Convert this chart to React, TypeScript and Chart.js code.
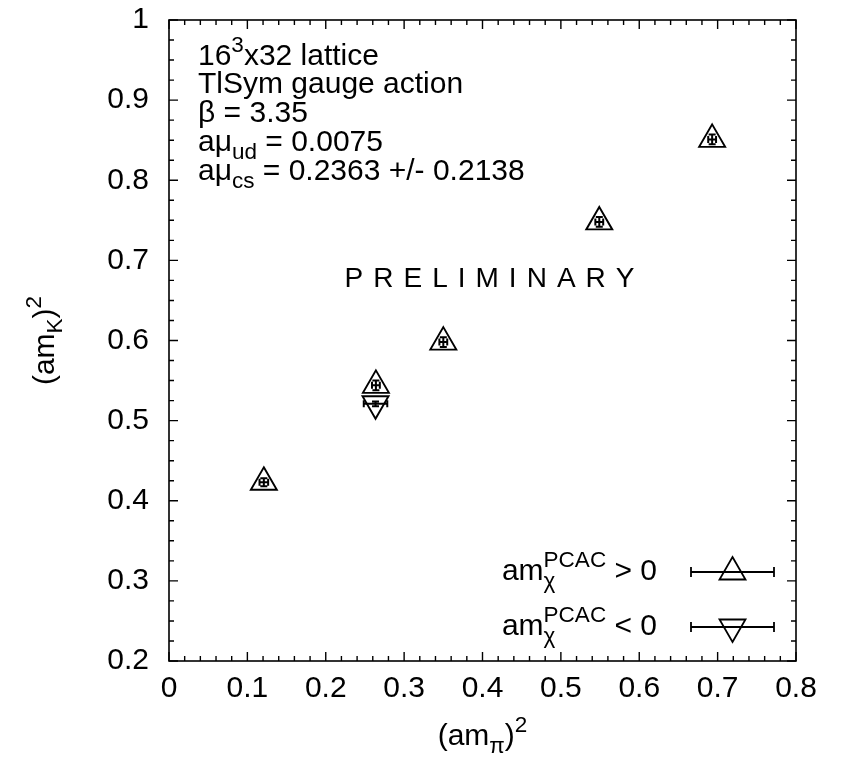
import React, { useEffect, useRef } from "react";
import { Chart, registerables } from "chart.js";

Chart.register(...registerables);

// ---- data ----
const xMin = 0;
const xMax = 0.8;
const yMin = 0.2;
const yMax = 1;
const tickStep = 0.1;
const xMinorPerMajor = 5;
const yMinorPerMajor = 4;

// am_chi^PCAC > 0
const posPionSq = [0.121, 0.264, 0.35, 0.549, 0.693];
const posKaonSq = [0.423, 0.544, 0.598, 0.748, 0.851];
const posPionErr = [0.0055, 0.005, 0.005, 0.005, 0.005];
const posKaonErr = [0.005, 0.006, 0.006, 0.006, 0.006];

// am_chi^PCAC < 0
const negPionSq = [0.2635];
const negKaonSq = [0.521];
const negPionErr = [0.015];
const negKaonErr = [0.003];

type Seg = string | { sub?: string; sup?: string };

const infoLines: Seg[][] = [
  ["16", { sup: "3" }, "x32 lattice"],
  ["TlSym gauge action"],
  ["β = 3.35"],
  ["aμ", { sub: "ud" }, " = 0.0075"],
  ["aμ", { sub: "cs" }, " = 0.2363 +/- 0.2138"],
];
const watermark = "PRELIMINARY";
const legendRows: Seg[][] = [
  ["am", { sub: "χ", sup: "PCAC" }, " > 0"],
  ["am", { sub: "χ", sup: "PCAC" }, " < 0"],
];
const xTitle: Seg[] = ["(am", { sub: "π" }, ")", { sup: "2" }];
const yTitle: Seg[] = ["(am", { sub: "K" }, ")", { sup: "2" }];

// ---- styling helpers ----
const FAMILY = "'Liberation Sans', Arial, Helvetica, sans-serif";
const FS = 30;
const SMALL = 0.75;
const fontStr = (s: number) => `${s}px ${FAMILY}`;

function richWidth(ctx: CanvasRenderingContext2D, segs: Seg[], size: number) {
  let w = 0;
  for (const s of segs) {
    if (typeof s === "string") {
      ctx.font = fontStr(size);
      w += ctx.measureText(s).width;
    } else {
      ctx.font = fontStr(size * SMALL);
      const a = s.sub ? ctx.measureText(s.sub).width : 0;
      const b = s.sup ? ctx.measureText(s.sup).width : 0;
      w += Math.max(a, b);
    }
  }
  return w;
}

function drawRich(
  ctx: CanvasRenderingContext2D,
  segs: Seg[],
  x: number,
  y: number,
  size: number,
  align: "left" | "right" | "center"
) {
  const w = richWidth(ctx, segs, size);
  let cx = align === "left" ? x : align === "right" ? x - w : x - w / 2;
  ctx.textAlign = "left";
  ctx.textBaseline = "alphabetic";
  ctx.fillStyle = "#000";
  for (const s of segs) {
    if (typeof s === "string") {
      ctx.font = fontStr(size);
      ctx.fillText(s, cx, y);
      cx += ctx.measureText(s).width;
    } else {
      ctx.font = fontStr(size * SMALL);
      let mw = 0;
      if (s.sub) {
        ctx.fillText(s.sub, cx, y + size * 0.27);
        mw = Math.max(mw, ctx.measureText(s.sub).width);
      }
      if (s.sup) {
        ctx.fillText(s.sup, cx, y - size * 0.45);
        mw = Math.max(mw, ctx.measureText(s.sup).width);
      }
      cx += mw;
    }
  }
}

function triangle(ctx: CanvasRenderingContext2D, x: number, y: number, r: number, down: boolean) {
  const d = down ? -1 : 1;
  ctx.beginPath();
  ctx.moveTo(x, y - d * r);
  ctx.lineTo(x + r * Math.sin((2 * Math.PI) / 3), y + (d * r) / 2);
  ctx.lineTo(x - r * Math.sin((2 * Math.PI) / 3), y + (d * r) / 2);
  ctx.closePath();
  ctx.stroke();
}

const decorPlugin = {
  id: "decor",
  beforeDatasetsDraw(chart: any) {
    const ctx: CanvasRenderingContext2D = chart.ctx;
    const xs = chart.scales.x;
    const ys = chart.scales.y;
    ctx.save();
    ctx.strokeStyle = "#000";
    ctx.lineWidth = 2;
    const cap = 3.5;
    chart.data.datasets.forEach((ds: any) => {
      ds.data.forEach((p: any, i: number) => {
        const px = xs.getPixelForValue(p.x);
        const py = ys.getPixelForValue(p.y);
        const x0 = xs.getPixelForValue(p.x - ds.xErr[i]);
        const x1 = xs.getPixelForValue(p.x + ds.xErr[i]);
        const y0 = ys.getPixelForValue(p.y - ds.yErr[i]);
        const y1 = ys.getPixelForValue(p.y + ds.yErr[i]);
        ctx.beginPath();
        ctx.moveTo(x0, py); ctx.lineTo(x1, py);
        ctx.moveTo(x0, py - cap); ctx.lineTo(x0, py + cap);
        ctx.moveTo(x1, py - cap); ctx.lineTo(x1, py + cap);
        ctx.moveTo(px, y0); ctx.lineTo(px, y1);
        ctx.moveTo(px - cap, y0); ctx.lineTo(px + cap, y0);
        ctx.moveTo(px - cap, y1); ctx.lineTo(px + cap, y1);
        ctx.stroke();
      });
    });
    ctx.restore();
  },
  afterDraw(chart: any) {
    const ctx: CanvasRenderingContext2D = chart.ctx;
    const a = chart.chartArea;
    const xs = chart.scales.x;
    const ys = chart.scales.y;
    ctx.save();
    ctx.strokeStyle = "#000";
    ctx.lineWidth = 1.6;
    ctx.strokeRect(a.left, a.top, a.right - a.left, a.bottom - a.top);

    // ticks on all four sides
    const major = 9, minor = 5;
    const xv: number[] = xs.ticks.map((t: any) => t.value);
    const yv: number[] = ys.ticks.map((t: any) => t.value);
    ctx.lineWidth = 1.4;
    ctx.beginPath();
    xv.forEach((v, i) => {
      const px = xs.getPixelForValue(v);
      ctx.moveTo(px, a.bottom); ctx.lineTo(px, a.bottom - major);
      ctx.moveTo(px, a.top); ctx.lineTo(px, a.top + major);
      if (i < xv.length - 1) {
        for (let k = 1; k < xMinorPerMajor; k++) {
          const mv = v + ((xv[i + 1] - v) * k) / xMinorPerMajor;
          const mx = xs.getPixelForValue(mv);
          ctx.moveTo(mx, a.bottom); ctx.lineTo(mx, a.bottom - minor);
          ctx.moveTo(mx, a.top); ctx.lineTo(mx, a.top + minor);
        }
      }
    });
    yv.forEach((v, i) => {
      const py = ys.getPixelForValue(v);
      ctx.moveTo(a.left, py); ctx.lineTo(a.left + major, py);
      ctx.moveTo(a.right, py); ctx.lineTo(a.right - major, py);
      if (i < yv.length - 1) {
        for (let k = 1; k < yMinorPerMajor; k++) {
          const mv = v + ((yv[i + 1] - v) * k) / yMinorPerMajor;
          const my = ys.getPixelForValue(mv);
          ctx.moveTo(a.left, my); ctx.lineTo(a.left + minor, my);
          ctx.moveTo(a.right, my); ctx.lineTo(a.right - minor, my);
        }
      }
    });
    ctx.stroke();

    // info text
    const baseOff = [45, 73, 102, 131, 160];
    infoLines.forEach((line, i) => {
      drawRich(ctx, line, a.left + 29, a.top + baseOff[i], FS, "left");
    });

    // watermark
    const wfs = 28;
    ctx.font = fontStr(wfs);
    ctx.fillStyle = "#000";
    ctx.textBaseline = "alphabetic";
    ctx.textAlign = "left";
    const chars = watermark.split("");
    const natural = chars.reduce((s, c) => s + ctx.measureText(c).width, 0);
    const spanW = 290;
    const gap = (spanW - natural) / (chars.length - 1);
    let wx = (a.left + a.right) / 2 + 7 - spanW / 2;
    chars.forEach((c) => {
      ctx.fillText(c, wx, a.top + 267);
      wx += ctx.measureText(c).width + gap;
    });

    // legend
    const rowOff = [89, 34];
    legendRows.forEach((row, i) => {
      const ry = a.bottom - rowOff[i];
      drawRich(ctx, row, a.right - 139, ry + 8, FS, "right");
      const lx0 = a.right - 105, lx1 = a.right - 22;
      ctx.lineWidth = 1.8;
      ctx.beginPath();
      ctx.moveTo(lx0, ry); ctx.lineTo(lx1, ry);
      ctx.moveTo(lx0, ry - 5); ctx.lineTo(lx0, ry + 5);
      ctx.moveTo(lx1, ry - 5); ctx.lineTo(lx1, ry + 5);
      ctx.stroke();
      ctx.lineWidth = 1.8;
      triangle(ctx, (lx0 + lx1) / 2, ry, 15, i === 1);
    });

    // axis titles
    drawRich(ctx, xTitle, (a.left + a.right) / 2, 745, FS, "center");
    ctx.save();
    ctx.translate(54, (a.top + a.bottom) / 2);
    ctx.rotate(-Math.PI / 2);
    drawRich(ctx, yTitle, 0, 0, FS, "center");
    ctx.restore();

    ctx.restore();
  },
};

export default function App() {
  const ref = useRef<HTMLCanvasElement>(null);
  useEffect(() => {
    if (!ref.current) return;
    const fmt = (v: any) => String(Math.round(Number(v) * 10) / 10);
    const chart = new Chart(ref.current, {
      type: "scatter",
      data: {
        datasets: [
          {
            label: "pos",
            data: posPionSq.map((x, i) => ({ x, y: posKaonSq[i] })),
            xErr: posPionErr,
            yErr: posKaonErr,
            pointStyle: "triangle",
            pointRadius: 15,
            pointBorderColor: "#000",
            pointBackgroundColor: "rgba(0,0,0,0)",
            pointBorderWidth: 1.9,
          } as any,
          {
            label: "neg",
            data: negPionSq.map((x, i) => ({ x, y: negKaonSq[i] })),
            xErr: negPionErr,
            yErr: negKaonErr,
            pointStyle: "triangle",
            pointRotation: 180,
            pointRadius: 15,
            pointBorderColor: "#000",
            pointBackgroundColor: "rgba(0,0,0,0)",
            pointBorderWidth: 1.9,
          } as any,
        ],
      },
      options: {
        responsive: false,
        animation: false,
        devicePixelRatio: 1,
        layout: { padding: { top: 20, right: 60, left: 0, bottom: 0 } },
        plugins: { legend: { display: false }, tooltip: { enabled: false } },
        scales: {
          x: {
            type: "linear",
            min: xMin,
            max: xMax,
            ticks: {
              stepSize: tickStep,
              color: "#000",
              font: { family: FAMILY, size: FS },
              padding: 10,
              maxRotation: 0,
              autoSkip: false,
              callback: fmt,
            },
            grid: { display: false, drawTicks: false },
            border: { display: false },
            afterFit: (s: any) => {
              s.height = 100;
              s.paddingLeft = 0;
              s.paddingRight = 0;
            },
          },
          y: {
            type: "linear",
            min: yMin,
            max: yMax,
            ticks: {
              stepSize: tickStep,
              color: "#000",
              font: { family: FAMILY, size: FS },
              padding: 20,
              autoSkip: false,
              callback: fmt,
            },
            grid: { display: false, drawTicks: false },
            border: { display: false },
            afterFit: (s: any) => {
              s.width = 169;
              s.paddingTop = 0;
              s.paddingBottom = 0;
            },
          },
        },
      } as any,
      plugins: [decorPlugin],
    });
    return () => chart.destroy();
  }, []);
  return (
    <div style={{ position: "absolute", left: 0, top: 0, width: 856, height: 761, background: "#fff" }}>
      <canvas ref={ref} width={856} height={761} style={{ display: "block" }} />
    </div>
  );
}
